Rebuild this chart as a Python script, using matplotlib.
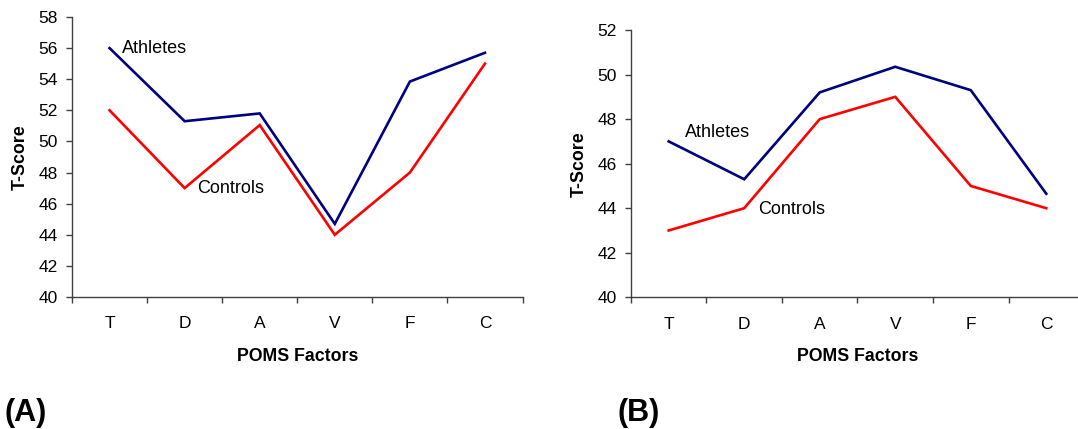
import matplotlib
matplotlib.use("Agg")
import matplotlib.pyplot as plt
import numpy as np

plt.rcParams['font.family'] = ['Liberation Sans', 'DejaVu Sans']

factors = ['T', 'D', 'A', 'V', 'F', 'C']

# Panel A
athletes_a = [56.0, 51.3, 51.8, 44.7, 53.85, 55.7]
controls_a = [52.0, 47.0, 51.05, 44.0, 48.0, 55.0]

# Panel B
athletes_b = [47.0, 45.3, 49.2, 50.35, 49.3, 44.65]
controls_b = [43.0, 44.0, 48.0, 49.0, 45.0, 44.0]

NAVY = '#000080'
RED = '#FF0000'


def draw_panel(ax, athletes, controls, ylim, ath_pos, con_pos):
    x = np.arange(len(factors))
    ax.plot(x, athletes, color=NAVY, lw=1.9, solid_joinstyle='miter')
    ax.plot(x, controls, color=RED, lw=1.9, solid_joinstyle='miter')

    ax.set_xlim(-0.5, len(factors) - 0.5)
    ax.set_ylim(*ylim)
    ax.set_yticks(np.arange(ylim[0], ylim[1] + 1, 2))
    ax.set_xticks(x)
    ax.set_xticklabels(factors)
    ax.set_xticks(np.arange(-0.5, len(factors), 1), minor=True)

    ax.tick_params(axis='x', which='major', length=0, pad=14, labelsize=12.5)
    ax.tick_params(axis='x', which='minor', length=4, direction='out', width=1, color='#404040')
    ax.tick_params(axis='y', length=4, direction='out', width=1, pad=6, labelsize=12.5, color='#404040')

    for side in ['top', 'right']:
        ax.spines[side].set_visible(False)
    for side in ['left', 'bottom']:
        ax.spines[side].set_color('#404040')
        ax.spines[side].set_linewidth(1)

    ax.set_xlabel('POMS Factors', fontsize=12.8, fontweight='bold', labelpad=12)
    ax.set_ylabel('T-Score', fontsize=12.8, fontweight='bold', labelpad=7)

    ax.text(ath_pos[0], ath_pos[1], 'Athletes', fontsize=13, va='center', ha='left')
    ax.text(con_pos[0], con_pos[1], 'Controls', fontsize=13, va='center', ha='left')


fig = plt.figure(figsize=(10.78, 4.29), dpi=100)

ax1 = fig.add_axes([0.0668, 0.3077, 0.4179, 0.6527])
draw_panel(ax1, athletes_a, controls_a, (40, 58), (0.16, 56.0), (1.17, 46.95))

ax2 = fig.add_axes([0.5853, 0.307, 0.4203, 0.623])
draw_panel(ax2, athletes_b, controls_b, (40, 52), (0.22, 47.4), (1.19, 43.95))

fig.text(0.004, 0.037, '(A)', fontsize=22, fontweight='bold', ha='left', va='center')
fig.text(0.573, 0.037, '(B)', fontsize=22, fontweight='bold', ha='left', va='center')

fig.savefig('out.png', dpi=100)
